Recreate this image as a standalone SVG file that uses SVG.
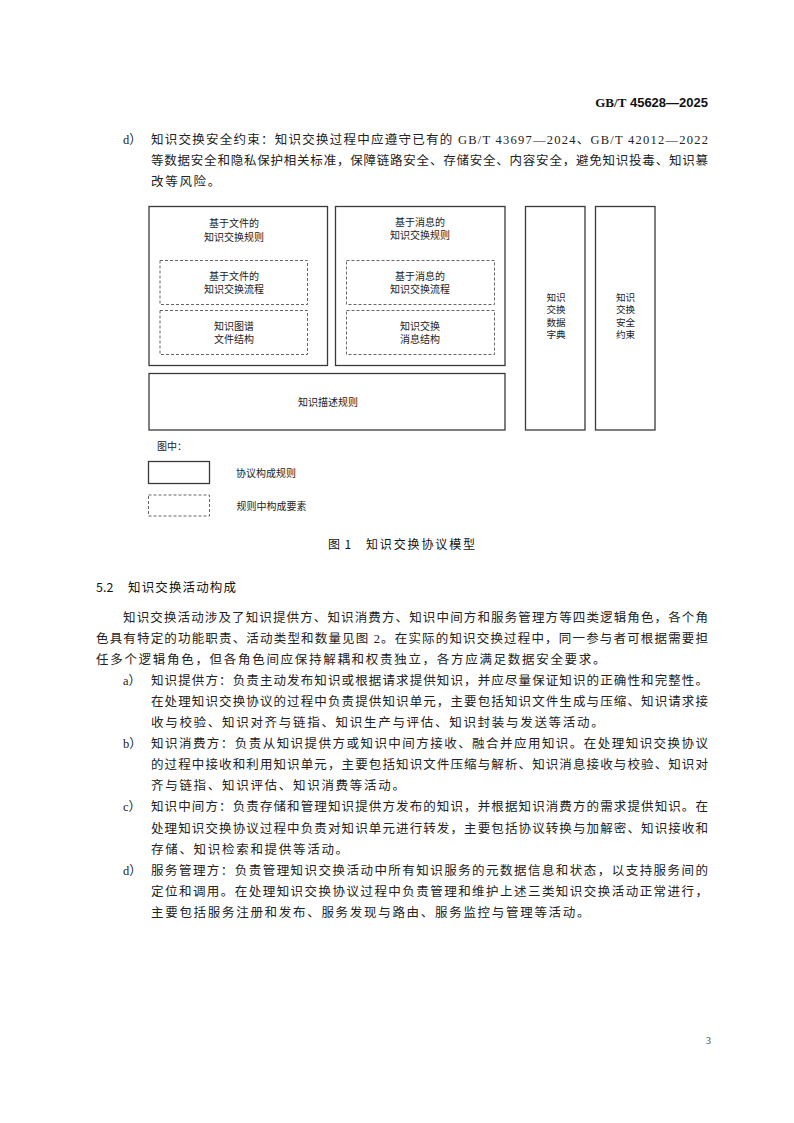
<svg xmlns="http://www.w3.org/2000/svg" width="794" height="1123" viewBox="0 0 794 1123">
<style>
.bg{fill:#ffffff}
.box{fill:none;stroke:#3a3a3a;stroke-width:1.3}
.dash{fill:none;stroke:#555555;stroke-width:0.9;stroke-dasharray:3 2}
.dt{font-family:"Noto Sans CJK SC",sans-serif;font-size:10px;fill:#222222;text-anchor:middle}
.vt{font-family:"Noto Sans CJK SC",sans-serif;font-size:9.6px;fill:#222222;text-anchor:middle}
.lt{font-family:"Noto Sans CJK SC",sans-serif;font-size:10px;fill:#222222}
.body{font-family:"Liberation Serif","Noto Sans CJK SC",serif;font-size:12.5px;fill:#222222}
.nat{letter-spacing:1.7px}
.hd{font-family:"Noto Sans CJK SC",sans-serif;font-size:12.5px;fill:#111111}
.cap{font-family:"Noto Sans CJK SC",sans-serif;font-size:12px;fill:#111111}
</style>
<rect class="bg" x="0" y="0" width="794" height="1123"/>

<g id="header">
<text x="708" y="107" text-anchor="end" font-size="13" font-weight="bold" fill="#111"><tspan font-family="Liberation Serif,serif">GB/T</tspan><tspan font-family="Liberation Sans,sans-serif"> 45628—2025</tspan></text>
</g>

<g id="para-top">
<text class="body" x="123" y="144.3">d）</text>
<text class="body" x="151" y="144.3" textLength="557" lengthAdjust="spacing">知识交换安全约束：知识交换过程中应遵守已有的 GB/T 43697—2024、GB/T 42012—2022</text>
<text class="body" x="151" y="165.3" textLength="557" lengthAdjust="spacing">等数据安全和隐私保护相关标准，保障链路安全、存储安全、内容安全，避免知识投毒、知识篡</text>
<text class="body nat" x="151" y="186.3">改等风险。</text>
</g>

<g id="connectors"></g>

<g id="node-file-rule">
<rect class="box" x="149" y="206.5" width="178.5" height="159"/>
<text class="dt" x="234" y="227.3"><tspan x="234">基于文件的</tspan><tspan x="234" dy="13.5">知识交换规则</tspan></text>
</g>
<g id="node-file-flow">
<rect class="dash" x="160" y="260.5" width="147.5" height="44"/>
<text class="dt" x="234" y="279.8"><tspan x="234">基于文件的</tspan><tspan x="234" dy="13.2">知识交换流程</tspan></text>
</g>
<g id="node-file-struct">
<rect class="dash" x="160" y="310.5" width="147.5" height="44"/>
<text class="dt" x="234" y="330"><tspan x="234">知识图谱</tspan><tspan x="234" dy="13">文件结构</tspan></text>
</g>

<g id="node-msg-rule">
<rect class="box" x="335.5" y="206.5" width="169.5" height="159"/>
<text class="dt" x="420" y="225.5"><tspan x="420">基于消息的</tspan><tspan x="420" dy="13.3">知识交换规则</tspan></text>
</g>
<g id="node-msg-flow">
<rect class="dash" x="346.5" y="260.5" width="148" height="44"/>
<text class="dt" x="420" y="279.8"><tspan x="420">基于消息的</tspan><tspan x="420" dy="13.2">知识交换流程</tspan></text>
</g>
<g id="node-msg-struct">
<rect class="dash" x="346.5" y="310.5" width="148" height="44"/>
<text class="dt" x="420" y="330"><tspan x="420">知识交换</tspan><tspan x="420" dy="13">消息结构</tspan></text>
</g>

<g id="node-desc-rule">
<rect class="box" x="149" y="373.5" width="356" height="56.5"/>
<text class="dt" x="328" y="405.8">知识描述规则</text>
</g>

<g id="node-dictionary">
<rect class="box" x="525.5" y="206.5" width="59.5" height="223.5"/>
<text class="vt" x="556" y="300.5"><tspan x="556">知识</tspan><tspan x="556" dy="12.6">交换</tspan><tspan x="556" dy="12.6">数据</tspan><tspan x="556" dy="12.6">字典</tspan></text>
</g>

<g id="node-security">
<rect class="box" x="595.5" y="206.5" width="59.5" height="223.5"/>
<text class="vt" x="625.5" y="300.5"><tspan x="625.5">知识</tspan><tspan x="625.5" dy="12.6">交换</tspan><tspan x="625.5" dy="12.6">安全</tspan><tspan x="625.5" dy="12.6">约束</tspan></text>
</g>

<g id="legend">
<text class="lt" x="157" y="449.8">图中：</text>
<rect class="box" x="148.5" y="461.5" width="61" height="22"/>
<text class="lt" x="236" y="476.5">协议构成规则</text>
<rect class="dash" x="148.5" y="495" width="61" height="21"/>
<text class="lt" x="236.5" y="509.8">规则中构成要素</text>
</g>

<g id="caption">
<text class="cap" x="328" y="549.3">图</text>
<text class="cap" x="344.5" y="549.3" font-family="Liberation Sans,sans-serif">1</text>
<text class="cap" x="366" y="549.3" textLength="109" lengthAdjust="spacing">知识交换协议模型</text>
</g>

<g id="section-5-2">
<text class="hd" x="96" y="591.7" font-family="Liberation Sans,sans-serif">5.2</text>
<text class="hd" x="128" y="591.7" textLength="108" lengthAdjust="spacing">知识交换活动构成</text>

<text class="body" x="123" y="621.5" textLength="585" lengthAdjust="spacing">知识交换活动涉及了知识提供方、知识消费方、知识中间方和服务管理方等四类逻辑角色，各个角</text>
<text class="body" x="96" y="642.6" textLength="612" lengthAdjust="spacing">色具有特定的功能职责、活动类型和数量见图 2。在实际的知识交换过程中，同一参与者可根据需要担</text>
<text class="body nat" x="96" y="663.7">任多个逻辑角色，但各角色间应保持解耦和权责独立，各方应满足数据安全要求。</text>

<text class="body" x="123" y="684.8">a）</text>
<text class="body" x="151" y="684.8" textLength="557" lengthAdjust="spacing">知识提供方：负责主动发布知识或根据请求提供知识，并应尽量保证知识的正确性和完整性。</text>
<text class="body" x="151" y="705.9" textLength="557" lengthAdjust="spacing">在处理知识交换协议的过程中负责提供知识单元，主要包括知识文件生成与压缩、知识请求接</text>
<text class="body nat" x="151" y="727">收与校验、知识对齐与链指、知识生产与评估、知识封装与发送等活动。</text>

<text class="body" x="123" y="748.1">b）</text>
<text class="body" x="151" y="748.1" textLength="557" lengthAdjust="spacing">知识消费方：负责从知识提供方或知识中间方接收、融合并应用知识。在处理知识交换协议</text>
<text class="body" x="151" y="769.2" textLength="557" lengthAdjust="spacing">的过程中接收和利用知识单元，主要包括知识文件压缩与解析、知识消息接收与校验、知识对</text>
<text class="body nat" x="151" y="790.3">齐与链指、知识评估、知识消费等活动。</text>

<text class="body" x="123" y="811.4">c）</text>
<text class="body" x="151" y="811.4" textLength="557" lengthAdjust="spacing">知识中间方：负责存储和管理知识提供方发布的知识，并根据知识消费方的需求提供知识。在</text>
<text class="body" x="151" y="832.5" textLength="557" lengthAdjust="spacing">处理知识交换协议过程中负责对知识单元进行转发，主要包括协议转换与加解密、知识接收和</text>
<text class="body nat" x="151" y="853.6">存储、知识检索和提供等活动。</text>

<text class="body" x="123" y="874.7">d）</text>
<text class="body" x="151" y="874.7" textLength="557" lengthAdjust="spacing">服务管理方：负责管理知识交换活动中所有知识服务的元数据信息和状态，以支持服务间的</text>
<text class="body" x="151" y="895.8" textLength="557" lengthAdjust="spacing">定位和调用。在处理知识交换协议过程中负责管理和维护上述三类知识交换活动正常进行，</text>
<text class="body nat" x="151" y="916.9">主要包括服务注册和发布、服务发现与路由、服务监控与管理等活动。</text>
</g>

<g id="page-number">
<text x="711" y="1044" text-anchor="end" font-family="Liberation Serif,serif" font-size="10" fill="#444">3</text>
</g>
</svg>
